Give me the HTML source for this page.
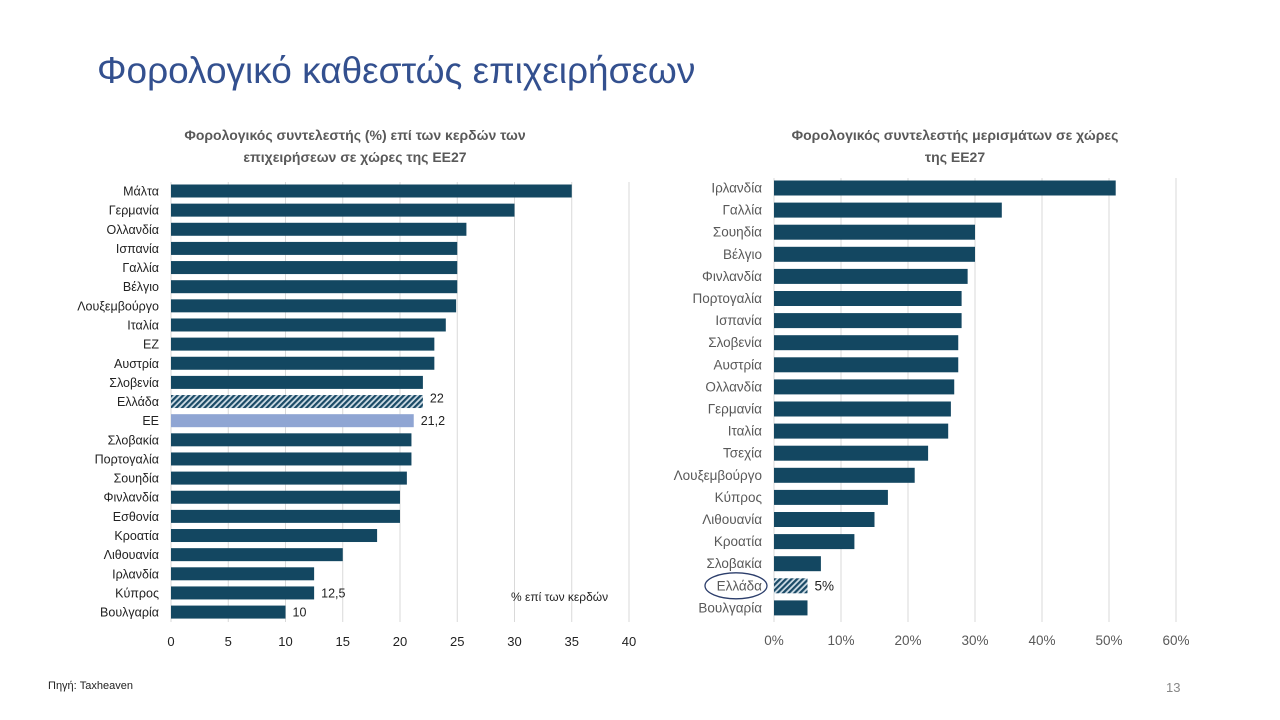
<!DOCTYPE html>
<html><head><meta charset="utf-8"><style>
body{margin:0;width:1280px;height:720px;background:#fff;font-family:"Liberation Sans","DejaVu Sans",sans-serif;overflow:hidden;position:relative}
.t{position:absolute}
</style></head><body>
<div class="t" style="left:97px;top:50px;font-size:37px;color:#33508f;">Φορολογικό καθεστώς επιχειρήσεων</div>
<div class="t" style="left:150px;top:124px;width:410px;text-align:center;font-size:14px;font-weight:bold;color:#595959;line-height:22px">Φορολογικός συντελεστής (%) επί των κερδών των επιχειρήσεων σε χώρες της ΕΕ27</div>
<div class="t" style="left:770px;top:124px;width:370px;text-align:center;font-size:14px;font-weight:bold;color:#595959;line-height:22px">Φορολογικός συντελεστής μερισμάτων σε χώρες<br>της ΕΕ27</div>
<div class="t" style="left:48px;top:680px;font-size:11px;color:#222">Πηγή: Taxheaven</div>
<div class="t" style="left:1166px;top:680px;font-size:13px;color:#888">13</div>
<svg width="1280" height="720" style="position:absolute;left:0;top:0">
<defs>
<pattern id="hatch" width="4" height="4" patternUnits="userSpaceOnUse" patternTransform="rotate(45)">
<rect width="4" height="4" fill="#cfdde6"/><rect width="2.2" height="4" fill="#1a4a66"/></pattern>
</defs>
<g id="left"></g><g id="right"></g>
</svg>
<script>
const leftCats=["Μάλτα","Γερμανία","Ολλανδία","Ισπανία","Γαλλία","Βέλγιο","Λουξεμβούργο","Ιταλία","ΕΖ","Αυστρία","Σλοβενία","Ελλάδα","ΕΕ","Σλοβακία","Πορτογαλία","Σουηδία","Φινλανδία","Εσθονία","Κροατία","Λιθουανία","Ιρλανδία","Κύπρος","Βουλγαρία"];
const leftVals=[35,30,25.8,25,25,25,24.9,24,23,23,22,22,21.2,21,21,20.6,20,20,18,15,12.5,12.5,10];
const leftLabels={"Ελλάδα":"22","ΕΕ":"21,2","Κύπρος":"12,5","Βουλγαρία":"10"};
const leftTicks=[0,5,10,15,20,25,30,35,40];
const rightCats=["Ιρλανδία","Γαλλία","Σουηδία","Βέλγιο","Φινλανδία","Πορτογαλία","Ισπανία","Σλοβενία","Αυστρία","Ολλανδία","Γερμανία","Ιταλία","Τσεχία","Λουξεμβούργο","Κύπρος","Λιθουανία","Κροατία","Σλοβακία","Ελλάδα","Βουλγαρία"];
const rightVals=[51,34,30,30,28.9,28,28,27.5,27.5,26.9,26.4,26,23,21,17,15,12,7,5,5];
const rightTicks=[0,10,20,30,40,50,60];
const NS="http://www.w3.org/2000/svg";
function mk(g,tag,a,txt){const e=document.createElementNS(NS,tag);for(const k in a)e.setAttribute(k,a[k]);if(txt!==undefined)e.textContent=txt;g.appendChild(e);return e;}
function chart(gid,cats,vals,ticks,o){
 const g=document.getElementById(gid);
 const xs=v=>o.x0+(v-ticks[0])/(ticks[ticks.length-1]-ticks[0])*(o.x1-o.x0);
 const ys=i=>o.y0+i*o.pitch;
 ticks.forEach(t=>{
  const l=mk(g,"line",{x1:xs(t),x2:xs(t),y1:o.gTop,y2:o.gBot,stroke:"#d9d9d9","stroke-width":1});
  
  
  const tx=mk(g,"text",{x:xs(t),y:o.tickY,"text-anchor":"middle","font-size":o.tfs,fill:o.tc},t+o.suf);
  
  
 });
 cats.forEach((c,i)=>{
  const y=ys(i);
  let fill="#134761";
  if(c==="Ελλάδα")fill="url(#hatch)";
  if(c==="ΕΕ")fill="#8fa5d3";
  const r=mk(g,"rect",{x:xs(0),y:y-o.bh/2,width:xs(vals[i])-xs(0),height:o.bh,fill:fill});
  
  
  const lb=mk(g,"text",{x:o.x0-12,y:y+4.5,"text-anchor":"end","font-size":o.fs,fill:o.lc},c);
  
  
  const v=o.labels(c,vals[i]);
  if(v){const dy=(o.up&&c===o.up)?1:4.5;
   const vl=mk(g,"text",{x:xs(vals[i])+7,y:y+dy,"font-size":o.fs,fill:"#222"},v);
   
   }
  if(o.circle&&c==="Ελλάδα"){const el=mk(g,"ellipse",{cx:o.x0-38,cy:y,rx:31,ry:13,fill:"none",stroke:"#2c3e6b","stroke-width":1.3});
   
   }
 });
}
chart("left",leftCats,leftVals,leftTicks,{x0:171,x1:629,y0:191,pitch:19.14,bh:13,gTop:182,gBot:622,tickY:646,fs:12.5,tfs:13,tc:"#222",lc:"#222",suf:"",labels:(c)=>leftLabels[c],up:"Ελλάδα"});
chart("right",rightCats,rightVals,rightTicks,{x0:774,x1:1176,y0:188,pitch:22.1,bh:15,gTop:178,gBot:622,tickY:645,fs:13.5,tfs:13.5,tc:"#595959",lc:"#595959",suf:"%",labels:(c,v)=>c==="Ελλάδα"?v+"%":null,circle:true});
const note=mk(document.getElementById("left"),"text",{x:511,y:601,"font-size":12,fill:"#222"},"% επί των κερδών");


</script>
</body></html>
